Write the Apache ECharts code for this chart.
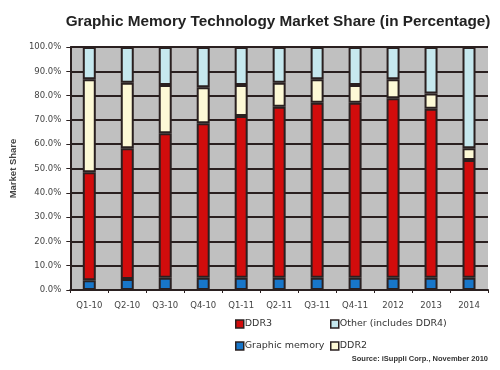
<!DOCTYPE html>
<html><head><meta charset="utf-8">
<script src="https://cdn.jsdelivr.net/npm/echarts@6/dist/echarts.min.js"></script>
<style>html,body{margin:0;padding:0;background:#fff;}#c{width:500px;height:370px;}</style>
</head><body><div id="c"></div>
<script>
const categories = ['Q1-10','Q2-10','Q3-10','Q4-10','Q1-11','Q2-11','Q3-11','Q4-11','2012','2013','2014'];
const graphicMemory = [4, 4.5, 5, 5, 5, 5, 5, 5, 5, 5, 5];
const ddr3 = [44.5, 53.8, 59.5, 63.6, 66.6, 70.4, 72.1, 72.1, 73.9, 69.6, 48.5];
const ddr2 = [38.2, 27.0, 19.9, 14.8, 12.8, 9.9, 9.6, 7.3, 7.8, 6.3, 4.8];
const other = [13.3, 14.7, 15.6, 16.6, 15.6, 14.7, 13.3, 15.6, 13.3, 19.1, 41.7];
const yTicks = [0,10,20,30,40,50,60,70,80,90,100];

const dark = '#2a2020';
const colors = {g:'#1876c9', d3:'#d20c0c', d2:'#fdf9d6', o:'#c6e8ee'};
const chart = echarts.init(document.getElementById('c'));
function ser(name, data, color){
  return {name, type:'bar', stack:'s', data, barWidth:13,
    itemStyle:{color, borderColor:dark, borderWidth:2}};
}
function leg(name, left, top){
  return {data:[name], left, top, icon:'rect', itemWidth:8, itemHeight:8, itemGap:0,
    itemStyle:{borderColor:dark, borderWidth:1.5},
    textStyle:{fontFamily:'DejaVu Sans, Verdana', fontSize:9.5, color:'#333', padding:[0,0,0,-4]}};
}
chart.setOption({
  animation:false,
  backgroundColor:'#fff',
  title:{text:'Graphic Memory Technology Market Share (in Percentage)', left:273, top:9, textAlign:'center',
    textStyle:{fontFamily:'Liberation Sans, Arial', fontWeight:'bold', fontSize:15.3, color:'#222'}},
  grid:{left:68, right:12, top:47, bottom:80, show:true, backgroundColor:'#c0c0c0', borderWidth:0},
  xAxis:{type:'category', data:categories,
    axisLine:{lineStyle:{color:dark, width:2}},
    axisTick:{show:true, length:3, lineStyle:{color:dark}},
    axisLabel:{fontFamily:'DejaVu Sans, Verdana', fontSize:8.5, color:'#444', margin:11}},
  yAxis:{type:'value', min:0, max:100, interval:10,
    name:'Market Share', nameLocation:'middle', nameGap:50, nameRotate:90,
    nameTextStyle:{fontFamily:'Liberation Sans, Arial', fontSize:9.5, fontWeight:'bold', color:'#444'},
    axisLine:{show:true, lineStyle:{color:dark, width:2}},
    axisTick:{show:true, length:4, lineStyle:{color:dark}},
    splitLine:{show:true, lineStyle:{color:dark, width:2}},
    axisLabel:{fontFamily:'DejaVu Sans, Verdana', fontSize:8.5, color:'#444', margin:9,
      formatter:v => yTicks.includes(v) ? v.toFixed(1)+'%' : ''}},
  legend:[leg('DDR3',230,314), leg('Other (includes DDR4)',325,314), leg('Graphic memory',230,336), leg('DDR2',325,336)],
  graphic:[{type:'text', right:12, top:355, style:{text:'Source: iSuppli Corp., November 2010',
    font:'bold 7.5px Liberation Sans, Arial', fill:'#333'}}],
  series:[ser('Graphic memory', graphicMemory, colors.g), ser('DDR3', ddr3, colors.d3),
    ser('DDR2', ddr2, colors.d2), ser('Other (includes DDR4)', other, colors.o)]
});
</script></body></html>
